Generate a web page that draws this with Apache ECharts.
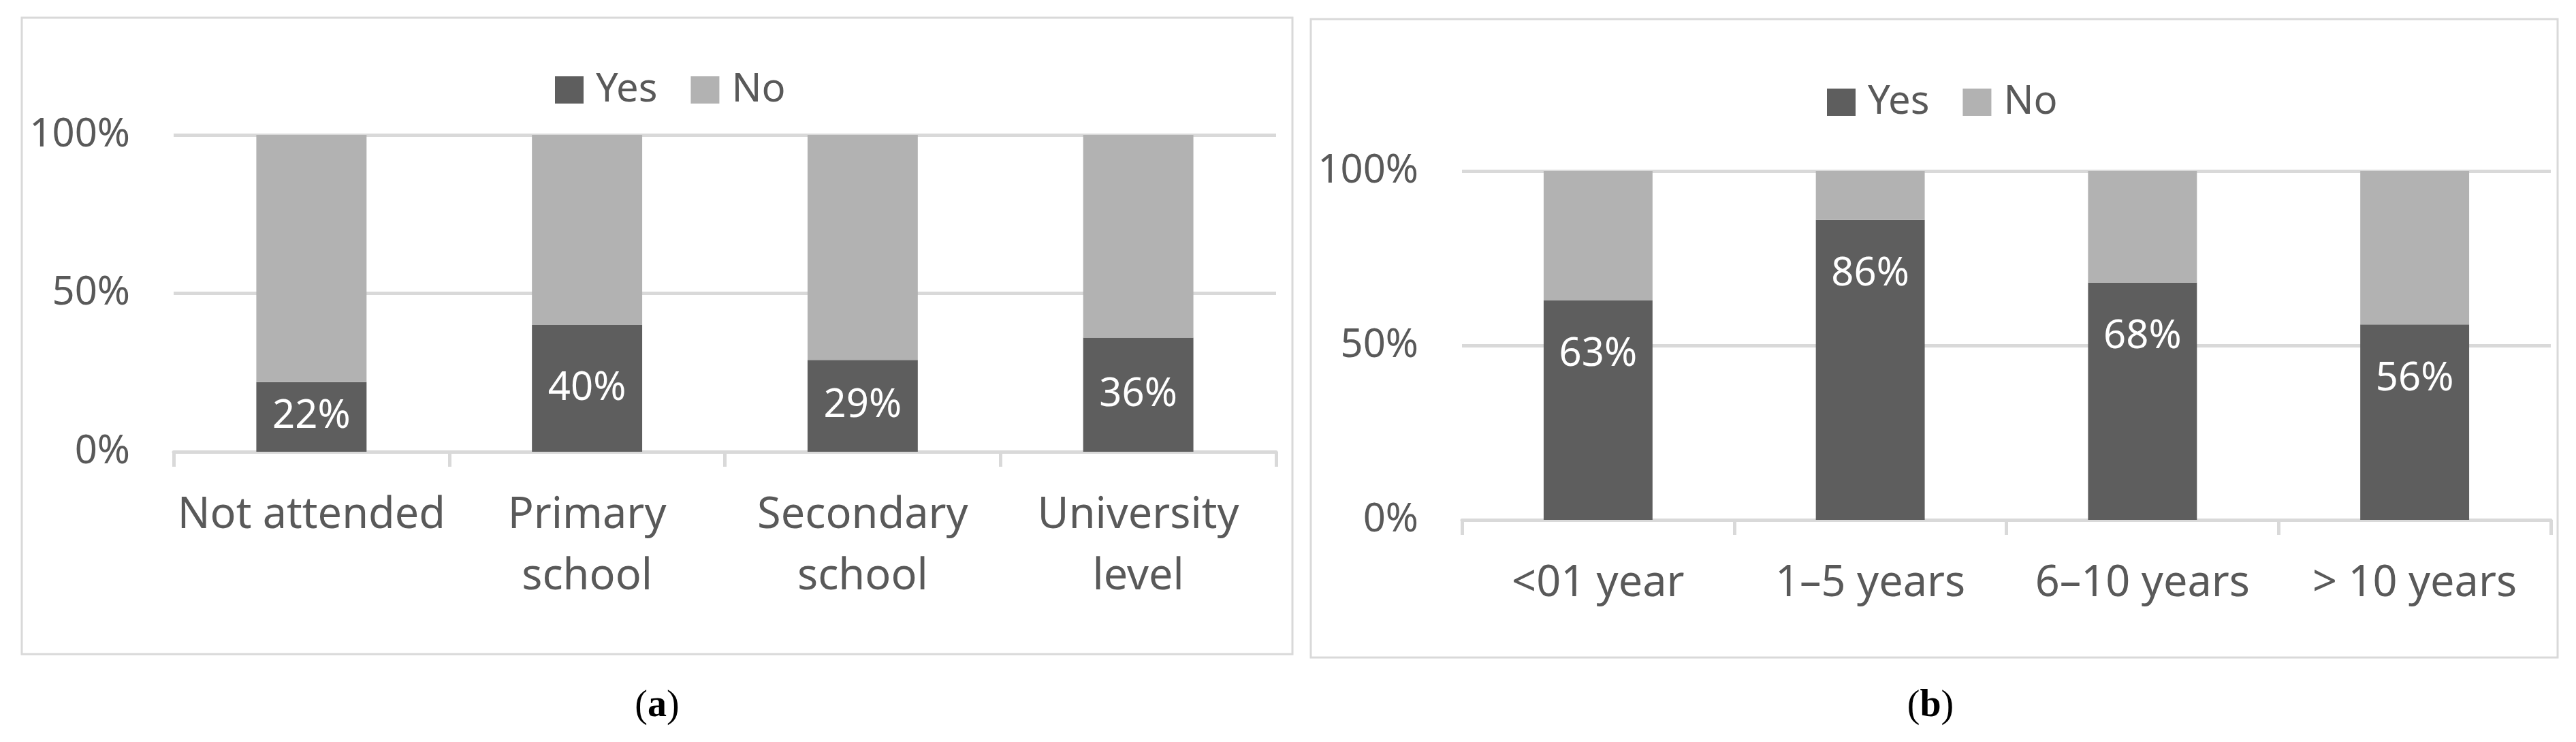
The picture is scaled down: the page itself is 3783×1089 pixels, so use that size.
<!DOCTYPE html>
<html>
<head>
<meta charset="utf-8">
<script src="https://cdn.jsdelivr.net/npm/echarts@6/dist/echarts.min.js"></script>
<style>
  html, body { margin: 0; padding: 0; background: #fff; }
  #chart { width: 3783px; height: 1089px; }
</style>
</head>
<body>
<div id="chart"></div>
<script>
// data
var seriesNames = ["Yes", "No"];
var eduCategories = ["Not attended", "Primary\nschool", "Secondary\nschool", "University\nlevel"];
var eduYes = [22, 40, 29, 36];
var eduNo = [78, 60, 71, 64];
var expCategories = ["<01 year", "1\u20135 years", "6\u201310 years", "> 10 years"];
var expYes = [63, 86, 68, 56];
var expNo = [37, 14, 32, 44];
var yTicks = [0, 50, 100];

var darkGrey = "#5e5e5e";
var lightGrey = "#b2b2b2";
var textGrey = "#595959";
var lineGrey = "#d9d9d9";
var font = "Noto Sans";

var chartDom = document.getElementById("chart");
var myChart = echarts.init(chartDom);

function xAxisFor(idx, cats) {
  return {
    type: "category",
    gridIndex: idx,
    data: cats,
    axisLine: { lineStyle: { color: lineGrey, width: 5 } },
    axisTick: { show: true, length: 22, lineStyle: { color: lineGrey, width: 5 } },
    axisLabel: {
      color: textGrey,
      fontFamily: font,
      fontSize: 63,
      lineHeight: 90,
      margin: 49,
      interval: 0,
    },
  };
}

function yAxisFor(idx) {
  return {
    type: "value",
    gridIndex: idx,
    min: yTicks[0],
    max: yTicks[yTicks.length - 1],
    interval: 50,
    axisLine: { show: false },
    axisTick: { show: false },
    splitLine: { lineStyle: { color: lineGrey, width: 5 } },
    axisLabel: {
      color: textGrey,
      fontFamily: font,
      fontSize: 58,
      margin: 64,
      formatter: "{value}%",
    },
  };
}

function barSeries(name, idx, stack, values, color, labelOpt) {
  return {
    name: name,
    type: "bar",
    xAxisIndex: idx,
    yAxisIndex: idx,
    stack: stack,
    barWidth: "40%",
    data: values,
    itemStyle: { color: color },
    label: labelOpt,
  };
}

var labelA = {
  show: true,
  position: "inside",
  color: "#fff",
  fontFamily: font,
  fontSize: 58,
  formatter: "{c}%",
};
var labelB = {
  show: true,
  position: "insideTop",
  distance: 52,
  color: "#fff",
  fontFamily: font,
  fontSize: 58,
  lineHeight: 56,
  formatter: "{c}%",
};

function legendAt(left, top) {
  return {
    left: left,
    top: top,
    itemWidth: 42,
    itemHeight: 40,
    itemGap: 49,
    icon: "rect",
    selectedMode: false,
    data: seriesNames,
    textStyle: {
      color: textGrey,
      fontFamily: font,
      fontSize: 58,
      padding: [0, 0, 0, 13],
    },
  };
}

var option = {
  animation: false,
  backgroundColor: "#fff",
  legend: [legendAt(810, 98), legendAt(2678, 116)],
  grid: [
    { left: 255, right: 1909, top: 198, bottom: 426 },
    { left: 2147, right: 37, top: 251, bottom: 326 },
  ],
  xAxis: [xAxisFor(0, eduCategories), xAxisFor(1, expCategories)],
  yAxis: [yAxisFor(0), yAxisFor(1)],
  series: [
    barSeries("Yes", 0, "edu", eduYes, darkGrey, labelA),
    barSeries("No", 0, "edu", eduNo, lightGrey, { show: false }),
    barSeries("Yes", 1, "exp", expYes, darkGrey, labelB),
    barSeries("No", 1, "exp", expNo, lightGrey, { show: false }),
  ],
  graphic: [
    // panel frames
    {
      type: "rect",
      shape: { x: 32, y: 26, width: 1866, height: 934 },
      style: { fill: "none", stroke: lineGrey, lineWidth: 3 },
      silent: true,
      z: -1,
    },
    {
      type: "rect",
      shape: { x: 1925, y: 28, width: 1831, height: 937 },
      style: { fill: "none", stroke: lineGrey, lineWidth: 3 },
      silent: true,
      z: -1,
    },
    // captions
    {
      type: "text",
      style: {
        text: "({b|a})",
        x: 965,
        y: 1037,
        align: "center",
        verticalAlign: "middle",
        fill: "#000",
        font: '56px "Liberation Serif"',
        rich: { b: { fontWeight: "bold", fontSize: 56, fontFamily: "Liberation Serif" } },
      },
    },
    {
      type: "text",
      style: {
        text: "({b|b})",
        x: 2835,
        y: 1037,
        align: "center",
        verticalAlign: "middle",
        fill: "#000",
        font: '56px "Liberation Serif"',
        rich: { b: { fontWeight: "bold", fontSize: 56, fontFamily: "Liberation Serif" } },
      },
    },
  ],
};

option && myChart.setOption(option);
</script>
</body>
</html>
